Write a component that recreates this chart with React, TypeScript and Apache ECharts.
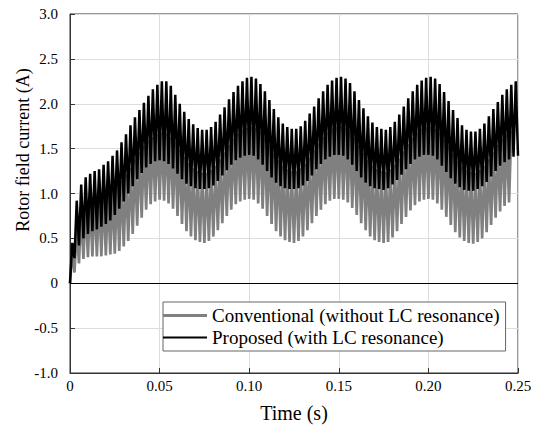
import React, { useEffect, useRef } from "react";
import * as echarts from "echarts";

// Sampling: one oscillation peak every SAMPLE_PERIOD seconds
const SAMPLE_PERIOD = 0.0025;

// Proposed (with LC resonance) – peak values of each ripple
const proposedPeaks = [
  0.45, 0.92, 1.10, 1.18, 1.22, 1.25, 1.27, 1.32, 1.36, 1.42, 1.48, 1.57, 1.66, 1.76, 1.85, 1.93, 2.01, 2.09, 2.16, 2.21,
  2.25, 2.25, 2.20, 2.10, 2.00, 1.91, 1.83, 1.77, 1.73, 1.71, 1.71, 1.74, 1.80, 1.88, 1.96, 2.05, 2.13, 2.20, 2.25, 2.29,
  2.30, 2.28, 2.22, 2.14, 2.04, 1.94, 1.85, 1.78, 1.74, 1.72, 1.72, 1.75, 1.81, 1.89, 1.97, 2.06, 2.14, 2.21, 2.26, 2.29,
  2.30, 2.28, 2.23, 2.14, 2.04, 1.95, 1.86, 1.79, 1.74, 1.72, 1.71, 1.74, 1.80, 1.88, 1.97, 2.06, 2.14, 2.21, 2.26, 2.29,
  2.30, 2.28, 2.22, 2.13, 2.03, 1.93, 1.84, 1.76, 1.71, 1.69, 1.69, 1.72, 1.78, 1.86, 1.94, 2.02, 2.10, 2.16, 2.21, 2.25,
];
// Proposed – valley values of each ripple
const proposedValleys = [
  0, 0.28, 0.42, 0.50, 0.55, 0.58, 0.60, 0.63, 0.66, 0.70, 0.76, 0.83, 0.91, 1.00, 1.08, 1.16, 1.23, 1.29, 1.33, 1.36,
  1.37, 1.36, 1.33, 1.28, 1.22, 1.16, 1.11, 1.08, 1.06, 1.05, 1.05, 1.06, 1.09, 1.14, 1.20, 1.26, 1.32, 1.37, 1.40, 1.42,
  1.43, 1.42, 1.38, 1.32, 1.25, 1.18, 1.12, 1.08, 1.06, 1.05, 1.05, 1.06, 1.09, 1.14, 1.20, 1.27, 1.33, 1.38, 1.41, 1.43,
  1.43, 1.42, 1.38, 1.32, 1.25, 1.18, 1.12, 1.08, 1.06, 1.05, 1.04, 1.06, 1.10, 1.15, 1.21, 1.27, 1.33, 1.38, 1.41, 1.43,
  1.43, 1.42, 1.38, 1.31, 1.24, 1.17, 1.11, 1.07, 1.04, 1.03, 1.03, 1.05, 1.08, 1.13, 1.19, 1.25, 1.31, 1.35, 1.38, 1.41, 1.42,
];
// Conventional (without LC resonance) – peak values
const conventionalPeaks = [
  0.35, 0.62, 0.80, 0.88, 0.92, 0.95, 0.97, 0.99, 1.01, 1.04, 1.08, 1.14, 1.21, 1.29, 1.38, 1.46, 1.53, 1.59, 1.63, 1.66,
  1.68, 1.67, 1.63, 1.57, 1.49, 1.41, 1.34, 1.28, 1.25, 1.23, 1.23, 1.26, 1.31, 1.38, 1.46, 1.54, 1.61, 1.67, 1.71, 1.73,
  1.74, 1.73, 1.69, 1.62, 1.54, 1.45, 1.37, 1.31, 1.27, 1.25, 1.25, 1.28, 1.33, 1.40, 1.48, 1.56, 1.63, 1.68, 1.72, 1.74,
  1.75, 1.73, 1.69, 1.62, 1.54, 1.45, 1.37, 1.31, 1.27, 1.25, 1.24, 1.27, 1.32, 1.39, 1.47, 1.55, 1.62, 1.68, 1.72, 1.74,
  1.74, 1.72, 1.68, 1.61, 1.53, 1.44, 1.36, 1.30, 1.26, 1.24, 1.23, 1.26, 1.31, 1.38, 1.46, 1.54, 1.61, 1.66, 1.70,
];
// Conventional – valley values
const conventionalValleys = [
  0, 0.12, 0.22, 0.27, 0.29, 0.30, 0.30, 0.30, 0.31, 0.32, 0.33, 0.36, 0.41, 0.47, 0.55, 0.64, 0.73, 0.82, 0.88, 0.91,
  0.93, 0.92, 0.89, 0.83, 0.75, 0.66, 0.58, 0.52, 0.48, 0.46, 0.45, 0.47, 0.52, 0.59, 0.67, 0.75, 0.82, 0.88, 0.91, 0.93,
  0.94, 0.93, 0.89, 0.83, 0.75, 0.66, 0.58, 0.52, 0.48, 0.46, 0.45, 0.47, 0.52, 0.59, 0.67, 0.75, 0.82, 0.88, 0.92, 0.94,
  0.94, 0.93, 0.90, 0.84, 0.76, 0.67, 0.59, 0.52, 0.48, 0.46, 0.45, 0.46, 0.51, 0.58, 0.66, 0.74, 0.81, 0.87, 0.91, 0.93,
  0.94, 0.93, 0.89, 0.82, 0.74, 0.65, 0.57, 0.51, 0.47, 0.45, 0.44, 0.46, 0.50, 0.57, 0.65, 0.73, 0.80, 0.86, 0.90,
];

const seriesNames = ["Conventional (without LC resonance)", "Proposed (with LC resonance)"];
const xTicks = [0, 0.05, 0.1, 0.15, 0.2, 0.25];
const yTicks = [-1, -0.5, 0, 0.5, 1, 1.5, 2, 2.5, 3];
const xTitle = "Time (s)";
const yTitle = "Rotor field current (A)";

function buildWave(valleys: number[], peaks: number[]): number[][] {
  const out: number[][] = [];
  const n = Math.max(valleys.length, peaks.length);
  for (let k = 0; k < n; k++) {
    if (k < valleys.length) out.push([k * SAMPLE_PERIOD, valleys[k]]);
    if (k < peaks.length) out.push([k * SAMPLE_PERIOD + SAMPLE_PERIOD / 2, peaks[k]]);
  }
  return out;
}

const FONT = "Liberation Serif";

export default function App() {
  const ref = useRef<HTMLDivElement>(null);
  useEffect(() => {
    if (!ref.current) return;
    const chart = echarts.init(ref.current, null, { renderer: "svg" });
    const option: any = {
      animation: false,
      backgroundColor: "#fff",
      textStyle: { fontFamily: FONT },
      grid: {
        left: 70,
        right: 21,
        top: 14,
        bottom: 54,
        show: true,
        borderColor: "#333",
        borderWidth: 1,
        outerBoundsMode: "none",
      },
      legend: {
        orient: "vertical",
        left: 163,
        top: 302,
        padding: [4, 6, 4, 0],
        itemGap: 3,
        itemWidth: 44,
        itemHeight: 14,
        borderColor: "#666",
        borderWidth: 1,
        backgroundColor: "#fff",
        textStyle: { fontFamily: FONT, fontSize: 19, color: "#000" },
        data: [
          { name: seriesNames[0], icon: "path://M0,0H44V3H0Z", itemStyle: { color: "#808080" } },
          { name: seriesNames[1], icon: "path://M0,0H44V2H0Z", itemStyle: { color: "#000" } },
        ],
      },
      xAxis: {
        type: "value",
        min: xTicks[0],
        max: xTicks[xTicks.length - 1],
        interval: 0.05,
        name: xTitle,
        nameLocation: "middle",
        nameGap: 30,
        nameTextStyle: { fontFamily: FONT, fontSize: 20, color: "#000" },
        axisLine: { show: true, onZero: false, lineStyle: { color: "#333", width: 1 } },
        axisTick: { show: true, inside: true, length: 5, lineStyle: { color: "#333" } },
        axisLabel: {
          fontFamily: FONT,
          fontSize: 15,
          color: "#000",
          margin: 5,
          formatter: (v: number) => (v === 0 ? "0" : v.toFixed(2)),
        },
        splitLine: { show: true, lineStyle: { color: "#ddd", width: 1 } },
      },
      yAxis: {
        type: "value",
        min: yTicks[0],
        max: yTicks[yTicks.length - 1],
        interval: 0.5,
        axisLine: { show: true, onZero: false, lineStyle: { color: "#333", width: 1 } },
        axisTick: { show: true, inside: true, length: 5, lineStyle: { color: "#333" } },
        axisLabel: {
          fontFamily: FONT,
          fontSize: 15,
          color: "#000",
          margin: 12,
          formatter: (v: number) => (v === 0 ? "0" : v.toFixed(1)),
        },
        splitLine: { show: true, lineStyle: { color: "#ddd", width: 1 } },
      },
      graphic: [
        {
          type: "text",
          x: 23,
          y: 150,
          rotation: Math.PI / 2,
          style: {
            text: yTitle,
            fontFamily: FONT,
            fontSize: 18,
            fill: "#000",
            textAlign: "center",
            textVerticalAlign: "middle",
          },
        },
      ],
      series: [
        {
          name: seriesNames[0],
          type: "line",
          data: buildWave(conventionalValleys, conventionalPeaks),
          showSymbol: false,
          symbol: "none",
          lineStyle: { color: "#808080", width: 2.7, join: "miter" },
          itemStyle: { color: "#808080" },
          z: 2,
        },
        {
          name: seriesNames[1],
          type: "line",
          data: buildWave(proposedValleys, proposedPeaks),
          showSymbol: false,
          symbol: "none",
          lineStyle: { color: "#000", width: 2.5, join: "miter" },
          itemStyle: { color: "#000" },
          z: 3,
          markLine: {
            silent: true,
            symbol: "none",
            label: { show: false },
            lineStyle: { color: "#000", width: 1, type: "solid" },
            data: [{ yAxis: 0 }],
          },
        },
      ],
    };
    chart.setOption(option);
    return () => chart.dispose();
  }, []);
  return (
    <div
      ref={ref}
      style={{ position: "absolute", left: 0, top: 0, width: 539, height: 427 }}
    />
  );
}
